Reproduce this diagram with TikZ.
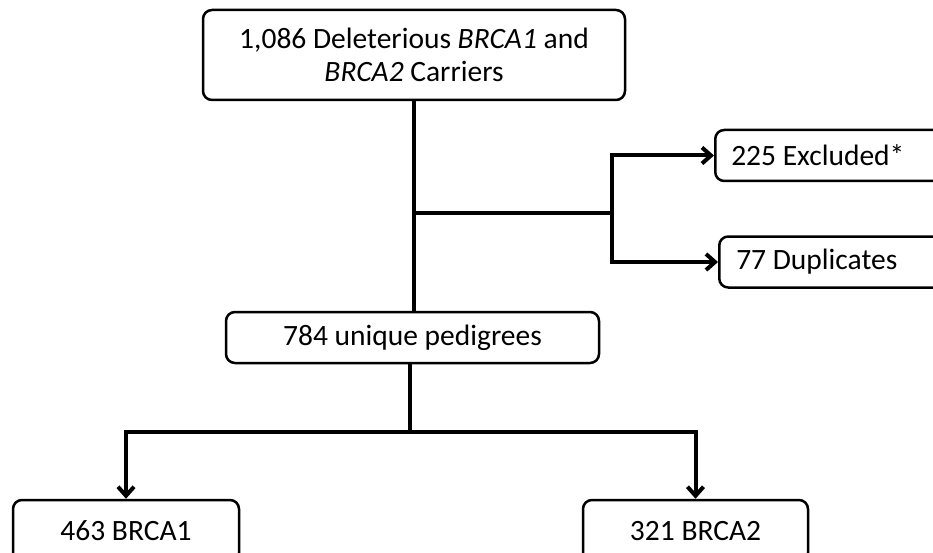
\documentclass[tikz,border=0pt]{standalone}
\usepackage{fontspec}
\setmainfont{Carlito}
\usetikzlibrary{arrows.meta}
\begin{document}
\begin{tikzpicture}[x=1pt,y=-1pt,
 box/.style={draw, line width=2.5pt, rounded corners=9pt, inner sep=0pt, font=\fontsize{29.5}{33}\selectfont, align=center},
 sidebox/.style={box, anchor=west, text width=200pt, align=flush left, minimum height=51pt},
 conn/.style={line width=4pt},
 arr/.style={conn, -{Straight Barb[length=9pt,width=16pt,line width=4pt]}}]
\useasboundingbox (0,0) rectangle (933,553);
\clip (0,0) rectangle (933,553);
\node[box, minimum width=422pt, minimum height=90pt] (top) at (414,55) {1,086 Deleterious \textit{BRCA1} and\\ \textit{BRCA2} Carriers};
\node[box, minimum width=373pt, minimum height=51pt] (uniq) at (412.5,337.5) {784 unique pedigrees};
\node[sidebox, inner xsep=16pt] (excl) at (714,155.5) {225 Excluded*};
\node[sidebox, inner xsep=17pt] (dup) at (718,262) {77 Duplicates};
\node[box, minimum width=226pt, minimum height=62pt] (b1) at (126,531) {463 BRCA1};
\node[box, minimum width=225pt, minimum height=62pt] (b2) at (695.5,531) {321 BRCA2};
\coordinate (j1) at (414,213);
\coordinate (j2) at (612,213);
\coordinate (j3) at (410,432);
\draw[conn] (top.south -| j1) -- (uniq.north -| j1);
\draw[conn] (j1) -- (j2);
\draw[arr] (j2) |- (excl.west);
\draw[arr] (j2) |- (dup.west);
\draw[conn] (uniq.south -| j3) -- (j3);
\draw[arr] (j3) -| (b1.north);
\draw[arr] (j3) -| (b2.north);
\end{tikzpicture}
\end{document}
